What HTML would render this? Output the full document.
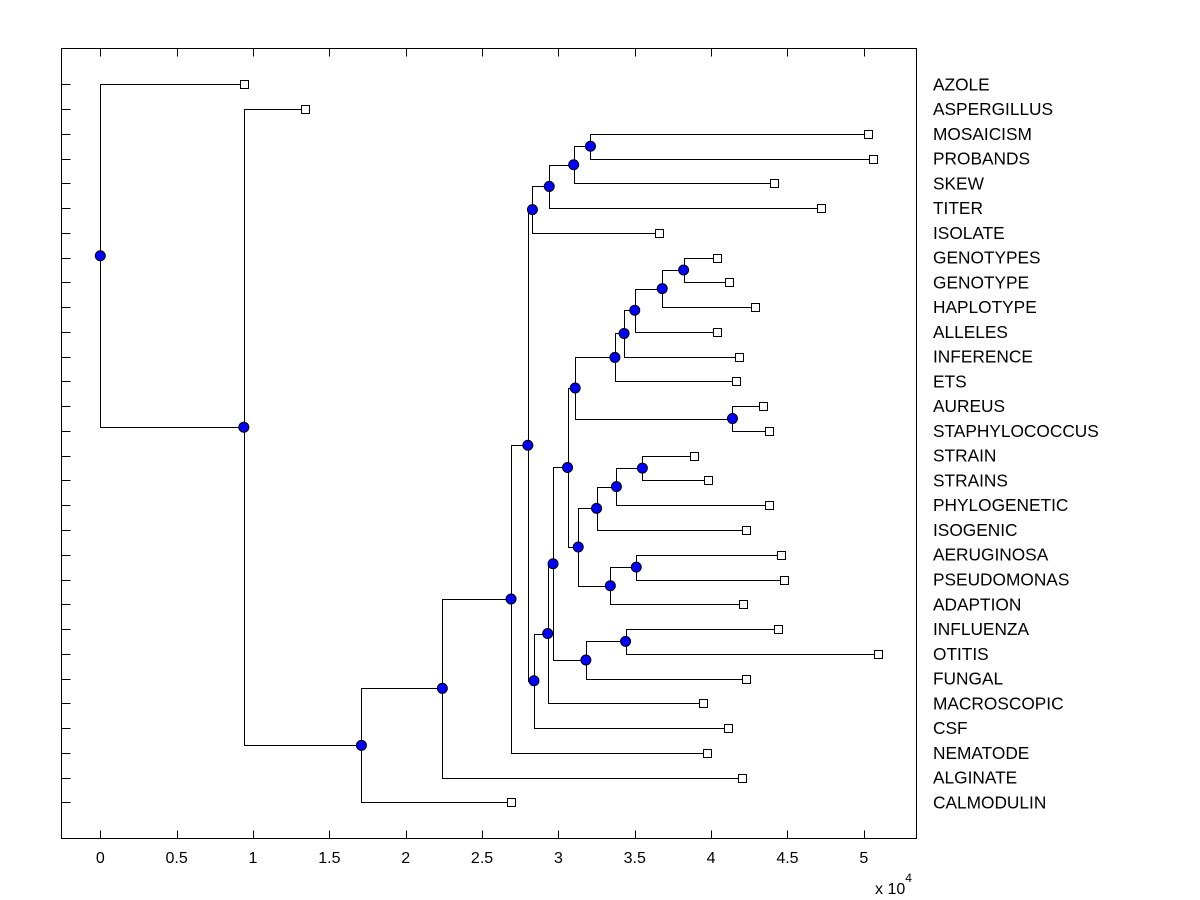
<!DOCTYPE html>
<html><head><meta charset="utf-8"><style>
html,body{margin:0;padding:0;background:#fff;}
svg{display:block;font-family:"Liberation Sans",Arial,sans-serif;}
</style></head><body>
<svg id="chart" width="1200" height="900" viewBox="0 0 1200 900" xmlns="http://www.w3.org/2000/svg">
<rect x="0" y="0" width="1200" height="900" fill="#fff"/>
<g id="axes"></g>
<g id="links"></g>
<g id="marks"></g>
<g id="labels"></g>
<text x="875" y="894" font-size="16">x 10<tspan font-size="12" dy="-12">4</tspan></text>
</svg>
<script>
const leafNames = ["AZOLE","ASPERGILLUS","MOSAICISM","PROBANDS","SKEW","TITER","ISOLATE","GENOTYPES","GENOTYPE","HAPLOTYPE","ALLELES","INFERENCE","ETS","AUREUS","STAPHYLOCOCCUS","STRAIN","STRAINS","PHYLOGENETIC","ISOGENIC","AERUGINOSA","PSEUDOMONAS","ADAPTION","INFLUENZA","OTITIS","FUNGAL","MACROSCOPIC","CSF","NEMATODE","ALGINATE","CALMODULIN"];
const leafValues = [0.94,1.34,5.03,5.06,4.41,4.72,3.66,4.04,4.12,4.29,4.04,4.18,4.16,4.34,4.38,3.89,3.98,4.38,4.23,4.46,4.48,4.21,4.44,5.09,4.23,3.95,4.11,3.97,4.20,2.69];
const nodeNames = ["root","n1","n2","n3","n4","n5","n6","n8","n9","n10","n7","n12","n11","n13","n15","n17","n19","n20","n21","n22","n18","n16","n23","n25","n26","n24","n27","n14","n28"];
const nodeValues = [0,0.94,1.71,2.24,2.69,2.80,2.83,2.94,3.10,3.21,2.84,2.93,2.965,3.06,3.11,3.37,3.43,3.50,3.68,3.82,4.14,3.13,3.25,3.38,3.55,3.34,3.51,3.18,3.44];
const nodeLeft  = ["AZOLE","ASPERGILLUS","n3","n4","n5","n6","n8","n9","n10","MOSAICISM","n12","n11","n13","n15","n17","n19","n20","n21","n22","GENOTYPES","AUREUS","n23","n25","n26","STRAIN","n27","AERUGINOSA","n28","INFLUENZA"];
const nodeRight = ["n1","n2","CALMODULIN","ALGINATE","NEMATODE","n7","ISOLATE","TITER","SKEW","PROBANDS","CSF","MACROSCOPIC","n14","n16","n18","ETS","INFERENCE","ALLELES","HAPLOTYPE","GENOTYPE","STAPHYLOCOCCUS","n24","ISOGENIC","PHYLOGENETIC","STRAINS","ADAPTION","PSEUDOMONAS","FUNGAL","OTITIS"];
const xTicks = [0,0.5,1,1.5,2,2.5,3,3.5,4,4.5,5];
const xTickLabels = ["0","0.5","1","1.5","2","2.5","3","3.5","4","4.5","5"];

const NS="http://www.w3.org/2000/svg";
const L=61.5,R=916.5,T=48.5,B=838.5;
function xs(v){return 100.3+v*152.7;}
function ys(i){return 84.3+i*24.76;}
function mk(tag,attrs,parent){const e=document.createElementNS(NS,tag);for(const k in attrs)e.setAttribute(k,attrs[k]);parent.appendChild(e);return e;}

const axes=document.getElementById('axes');
const frame=mk('rect',{x:L,y:T,width:R-L,height:B-T,fill:'none',stroke:'#000','stroke-width':1},axes);


xTicks.forEach((t,i)=>{
  const x=Math.round(xs(t))+0.5;
  const a=mk('line',{x1:x,x2:x,y1:B,y2:B-8,stroke:'#000'},axes);
  
  
  const b=mk('line',{x1:x,x2:x,y1:T,y2:T+8,stroke:'#000'},axes);
  
  
  const tx=mk('text',{x:xs(t),y:863,'font-size':16,'text-anchor':'middle'},axes);
  tx.textContent=xTickLabels[i];
  
  
});
leafNames.forEach((n,i)=>{
  const y=Math.round(ys(i))+0.5;
  const tk=mk('line',{x1:L,x2:L+9,y1:y,y2:y,stroke:'#000'},axes);
  
  
});

const pos={};
leafNames.forEach((n,i)=>{pos[n]={x:xs(leafValues[i]),y:ys(i)};});
function resolve(id){
  if(pos[id])return pos[id];
  const k=nodeNames.indexOf(id);
  const a=resolve(nodeLeft[k]),b=resolve(nodeRight[k]);
  pos[id]={x:xs(nodeValues[k]),y:(a.y+b.y)/2};
  return pos[id];
}
nodeNames.forEach(resolve);

const links=document.getElementById('links'),marks=document.getElementById('marks'),labels=document.getElementById('labels');
nodeNames.forEach((id,k)=>{
  const p=pos[id],a=pos[nodeLeft[k]],b=pos[nodeRight[k]];
  const px=Math.round(p.x)+0.5;
  const d=`M${Math.round(a.x)} ${Math.round(a.y)+0.5}H${px}V${Math.round(b.y)+0.5}H${Math.round(b.x)}`;
  const ln=mk('path',{d:d,fill:'none',stroke:'#000','stroke-width':1},links);
  
  
});
nodeNames.forEach((id)=>{
  const p=pos[id];
  const c=mk('circle',{cx:p.x,cy:p.y,r:5,fill:'#0000ff',stroke:'#000','stroke-width':1},marks);
  
  
});
leafNames.forEach((n,i)=>{
  const p=pos[n];
  const s=mk('rect',{x:Math.round(p.x)-3.5,y:Math.round(p.y)-3.5,width:8,height:8,fill:'#fff',stroke:'#000','stroke-width':1},marks);
  
  
  const t=mk('text',{x:933,y:p.y+6,'font-size':17.3},labels);
  t.textContent=n;
  
  
});
</script>
</body></html>
